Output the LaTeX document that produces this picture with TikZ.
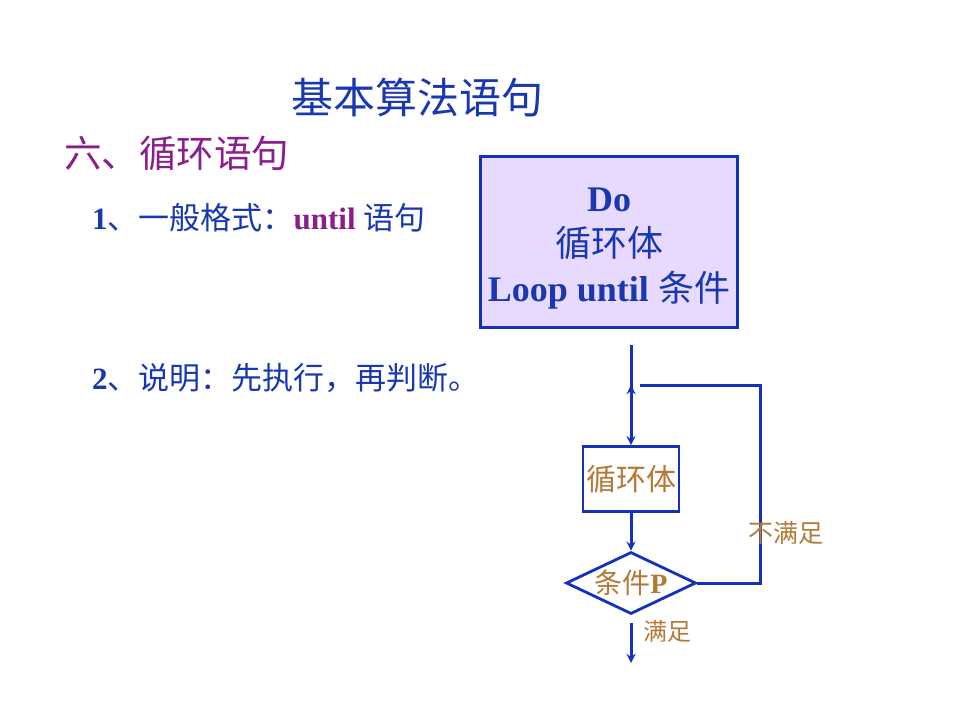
\documentclass[tikz,border=0pt]{standalone}
\usepackage{fontspec}
\usepackage{xcolor}
\setmainfont{Liberation Serif}
\newfontfamily\cjk{Noto Sans CJK SC}
\usetikzlibrary{shapes.geometric}
\definecolor{lineblue}{RGB}{20,50,185}
\definecolor{txtblue}{RGB}{25,55,175}
\definecolor{hdpurple}{RGB}{140,30,140}
\definecolor{boxlilac}{RGB}{232,218,255}
\definecolor{flowbrown}{RGB}{180,120,55}

\begin{document}
\begin{tikzpicture}[x=1pt,y=-1pt,-stealth,
  conn/.style={draw=lineblue,line width=3pt},
  txt/.style={inner sep=0pt,anchor=west},
  flowbox/.style={rectangle,draw=lineblue,line width=2.8pt,minimum width=96pt,minimum height=65pt,inner sep=0pt,text=flowbrown},
  cond/.style={diamond,aspect=2.1,draw=lineblue,line width=2.8pt,minimum width=130pt,minimum height=62pt,inner sep=0pt,text=flowbrown}]
\useasboundingbox (0,0) rectangle (960,720);
\node[txt,text=txtblue,font=\fontsize{42}{46}\selectfont\cjk] (title) at (291,98) {基本算法语句};
\node[txt,text=hdpurple,font=\fontsize{37.5}{40}\selectfont\cjk] (head) at (64,153) {六、循环语句};
\node[txt,text=txtblue,font=\fontsize{31}{34}\selectfont] (item1) at (92,218) {\textbf{1}{\cjk 、一般格式：}\textcolor{hdpurple}{\textbf{until}} {\cjk 语句}};
\node[txt,text=txtblue,font=\fontsize{31}{34}\selectfont] (item2) at (92,378) {\textbf{2}{\cjk 、说明：先执行，再判断。}};
\node[rectangle,draw=lineblue,line width=3pt,fill=boxlilac,minimum width=257pt,minimum height=171pt,inner sep=0pt] (syntax) at (609,242) {};
\node[inner sep=0pt,align=center,text=txtblue,font=\fontsize{36}{45}\selectfont] (syntaxtxt) at (609,249) {\textbf{Do}\\{\cjk 循环体}\\\textbf{Loop until} {\cjk 条件}};
\node[flowbox,font=\fontsize{30}{34}\selectfont\cjk] (body) at (631,479) {循环体};
\node[cond,font=\fontsize{28}{32}\selectfont] (test) at (631,583) {{\cjk 条件}\textbf{P}};
\coordinate (start) at (631,345);
\coordinate (join) at (631,385);
\coordinate (ret) at (640,385);
\coordinate (exit) at (631,623);
\coordinate (end) at (631,663);
\draw[conn] (start) -- (body.north);
\draw[conn] (body.south) -- (test.north);
\draw[conn] (exit) -- (end);
\draw[conn,-] (test.east) -- (760,583) -- (760,385) -- (ret);
\draw[conn] (631,393) -- (join);
\node[inner sep=0pt,text=flowbrown,font=\fontsize{25}{28}\selectfont\cjk] (no) at (786,533) {不满足};
\node[inner sep=0pt,text=flowbrown,font=\fontsize{24}{28}\selectfont\cjk] (yes) at (667,631) {满足};
\end{tikzpicture}
\end{document}
